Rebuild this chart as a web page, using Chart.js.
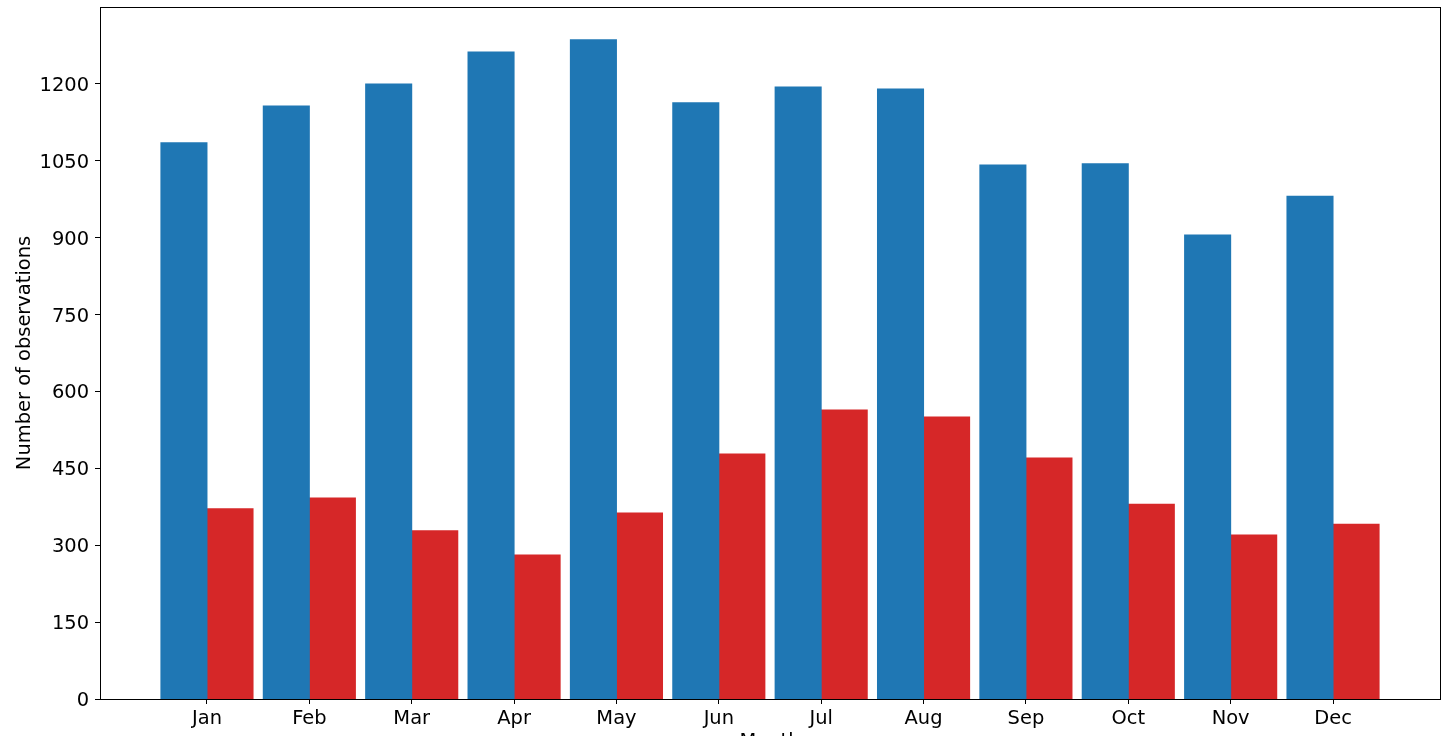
<!DOCTYPE html>
<html>
<head>
<meta charset="utf-8">
<script src="https://cdn.jsdelivr.net/npm/chart.js@4/dist/chart.umd.min.js"></script>
<style>
  html, body { margin: 0; padding: 0; background: #fff; overflow: hidden; }
  #wrap { width: 1451px; height: 736px; overflow: hidden; }
</style>
</head>
<body>
<div id="wrap"><canvas id="c" width="1451" height="760"></canvas></div>
<script>
const months = ["Jan","Feb","Mar","Apr","May","Jun","Jul","Aug","Sep","Oct","Nov","Dec"];
const seriesBlue = [1085, 1157, 1200, 1262, 1286, 1163, 1194, 1190, 1042, 1044, 905, 981];
const seriesRed  = [371, 392, 328, 281, 363, 478, 564, 550, 470, 380, 320, 341];
const yTicks = [0, 150, 300, 450, 600, 750, 900, 1050, 1200];

const FONT = { family: "'DejaVu Sans', sans-serif", size: 19.44 };

const framePlugin = {
  id: 'frame',
  afterDraw(chart) {
    const a = chart.chartArea, ctx = chart.ctx;
    ctx.save();
    ctx.strokeStyle = '#000';
    ctx.lineWidth = 1;
    const l = Math.round(a.left) + 0.5, t = Math.round(a.top) + 0.5;
    const r = Math.round(a.right) + 0.5, b = Math.round(a.bottom) + 0.5;
    ctx.strokeRect(l, t, r - l, b - t);
    ctx.restore();
  }
};

new Chart(document.getElementById('c'), {
  type: 'bar',
  data: {
    datasets: [
      { label: 'blue', data: months.map((m, i) => ({ x: i, y: seriesBlue[i] })), backgroundColor: '#1f77b4', borderWidth: 0, inflateAmount: 0.5 },
      { label: 'red',  data: months.map((m, i) => ({ x: i, y: seriesRed[i] })),  backgroundColor: '#d62728', borderWidth: 0, inflateAmount: 0.5 }
    ]
  },
  options: {
    responsive: false,
    devicePixelRatio: 1,
    animation: false,
    layout: { padding: { top: 7, right: 11, left: 0, bottom: 6 } },
    plugins: { legend: { display: false }, tooltip: { enabled: false } },
    datasets: { bar: { categoryPercentage: 0.9, barPercentage: 1.0 } },
    scales: {
      x: {
        type: 'linear',
        offset: false,
        min: -1.045,
        max: 12.045,
        afterBuildTicks: (s) => { s.ticks = months.map((m, i) => ({ value: i })); },
        afterFit: (s) => { s.height = 55; s.paddingLeft = 0; s.paddingRight = 0; },
        ticks: {
          callback: (v) => months[v] ?? '',
          color: '#000', font: FONT, padding: 3, maxRotation: 0, autoSkip: false
        },
        grid: { display: true, offset: false, drawOnChartArea: false, drawTicks: true, tickLength: 5, color: '#000', lineWidth: 1 },
        border: { display: false },
        title: { display: true, text: 'Month', color: '#000', font: FONT, padding: { top: 4, bottom: 0 } }
      },
      y: {
        type: 'linear',
        min: 0,
        max: 1350,
        afterBuildTicks: (s) => { s.ticks = yTicks.map(v => ({ value: v })); },
        afterFit: (s) => { s.width = 100; s.paddingTop = 0; s.paddingBottom = 0; },
        ticks: { color: '#000', font: FONT, padding: 6, labelOffset: 2, callback: (v) => String(v) },
        grid: { display: true, drawOnChartArea: false, drawTicks: true, tickLength: 5, color: '#000', lineWidth: 1 },
        border: { display: false },
        title: { display: true, text: 'Number of observations', color: '#000', font: FONT, padding: { top: 13.5, bottom: 4 } }
      }
    }
  },
  plugins: [framePlugin]
});
</script>
</body>
</html>
